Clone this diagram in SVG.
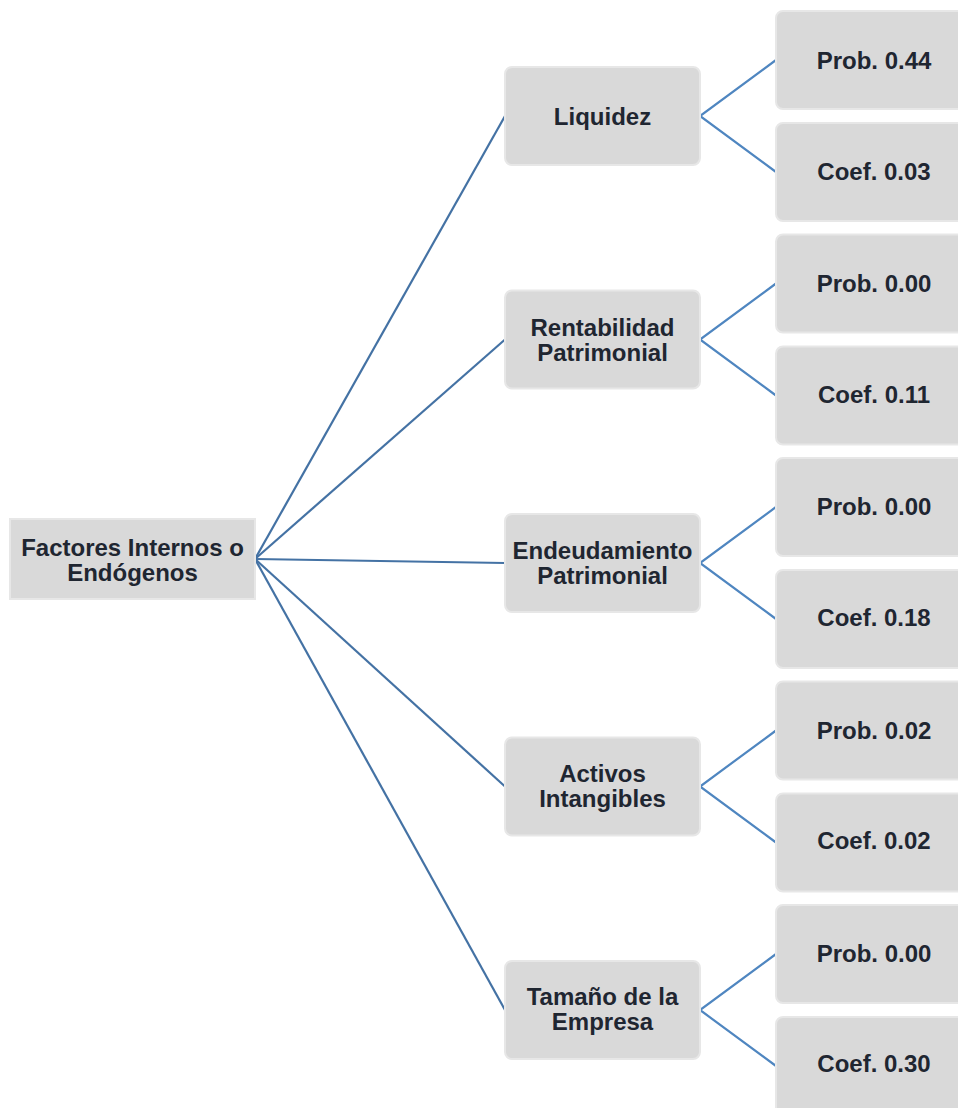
<svg xmlns="http://www.w3.org/2000/svg" width="958" height="1108" viewBox="0 0 958 1108">
  <style>
    .box { fill: #d9d9d9; stroke: #e7e7e7; stroke-width: 2; }
    .lbl { font-family: "Liberation Sans", Arial, sans-serif; font-weight: bold; font-size: 24px; fill: #1f2631; text-anchor: middle; }
    .c1 { stroke: #4472a4; stroke-width: 2.2; fill: none; }
    .c2 { stroke: #4f86c0; stroke-width: 2.2; fill: none; }
  </style>
  <rect width="958" height="1108" fill="#ffffff"/>

  <!-- connectors -->
  <g id="connectors">
    <line class="c1" x1="255" y1="559" x2="505" y2="116"/>
    <line class="c1" x1="255" y1="559" x2="505" y2="339.5"/>
    <line class="c1" x1="255" y1="559" x2="505" y2="563"/>
    <line class="c1" x1="255" y1="559" x2="505" y2="786.5"/>
    <line class="c1" x1="255" y1="559" x2="505" y2="1010"/>

    <polyline class="c2" points="776,60 700,116 776,172"/>
    <polyline class="c2" points="776,283.5 700,339.5 776,395.5"/>
    <polyline class="c2" points="776,507 700,563 776,619"/>
    <polyline class="c2" points="776,730.5 700,786.5 776,842.5"/>
    <polyline class="c2" points="776,954 700,1010 776,1066"/>
  </g>

  <!-- root -->
  <g id="root">
    <rect class="box" x="10" y="519" width="245" height="80"/>
    <text class="lbl" x="132.5" y="555.5">Factores Internos o</text>
    <text class="lbl" x="132.5" y="580.5">Endógenos</text>
  </g>

  <!-- factors -->
  <g id="liquidez">
    <rect class="box" x="505" y="67" width="195" height="98" rx="7"/>
    <text class="lbl" x="602.5" y="124.5">Liquidez</text>
  </g>
  <g id="rentabilidad">
    <rect class="box" x="505" y="290.5" width="195" height="98" rx="7"/>
    <text class="lbl" x="602.5" y="335.5">Rentabilidad</text>
    <text class="lbl" x="602.5" y="360.5">Patrimonial</text>
  </g>
  <g id="endeudamiento">
    <rect class="box" x="505" y="514" width="195" height="98" rx="7"/>
    <text class="lbl" x="602.5" y="558.5">Endeudamiento</text>
    <text class="lbl" x="602.5" y="583.5">Patrimonial</text>
  </g>
  <g id="activos">
    <rect class="box" x="505" y="737.5" width="195" height="98" rx="7"/>
    <text class="lbl" x="602.5" y="781.5">Activos</text>
    <text class="lbl" x="602.5" y="806.5">Intangibles</text>
  </g>
  <g id="tamano">
    <rect class="box" x="505" y="961" width="195" height="98" rx="7"/>
    <text class="lbl" x="602.5" y="1004.5">Tamaño de la</text>
    <text class="lbl" x="602.5" y="1029.5">Empresa</text>
  </g>

  <!-- results -->
  <g id="liq-prob">
    <rect class="box" x="776" y="11" width="196" height="98" rx="7"/>
    <text class="lbl" x="874" y="68.5">Prob. 0.44</text>
  </g>
  <g id="liq-coef">
    <rect class="box" x="776" y="123" width="196" height="98" rx="7"/>
    <text class="lbl" x="874" y="180">Coef. 0.03</text>
  </g>
  <g id="ren-prob">
    <rect class="box" x="776" y="234.5" width="196" height="98" rx="7"/>
    <text class="lbl" x="874" y="291.5">Prob. 0.00</text>
  </g>
  <g id="ren-coef">
    <rect class="box" x="776" y="346.5" width="196" height="98" rx="7"/>
    <text class="lbl" x="874" y="403">Coef. 0.11</text>
  </g>
  <g id="end-prob">
    <rect class="box" x="776" y="458" width="196" height="98" rx="7"/>
    <text class="lbl" x="874" y="515">Prob. 0.00</text>
  </g>
  <g id="end-coef">
    <rect class="box" x="776" y="570" width="196" height="98" rx="7"/>
    <text class="lbl" x="874" y="626">Coef. 0.18</text>
  </g>
  <g id="act-prob">
    <rect class="box" x="776" y="681.5" width="196" height="98" rx="7"/>
    <text class="lbl" x="874" y="738.5">Prob. 0.02</text>
  </g>
  <g id="act-coef">
    <rect class="box" x="776" y="793.5" width="196" height="98" rx="7"/>
    <text class="lbl" x="874" y="849">Coef. 0.02</text>
  </g>
  <g id="tam-prob">
    <rect class="box" x="776" y="905" width="196" height="98" rx="7"/>
    <text class="lbl" x="874" y="961.5">Prob. 0.00</text>
  </g>
  <g id="tam-coef">
    <rect class="box" x="776" y="1017" width="196" height="98" rx="7"/>
    <text class="lbl" x="874" y="1072">Coef. 0.30</text>
  </g>
</svg>
